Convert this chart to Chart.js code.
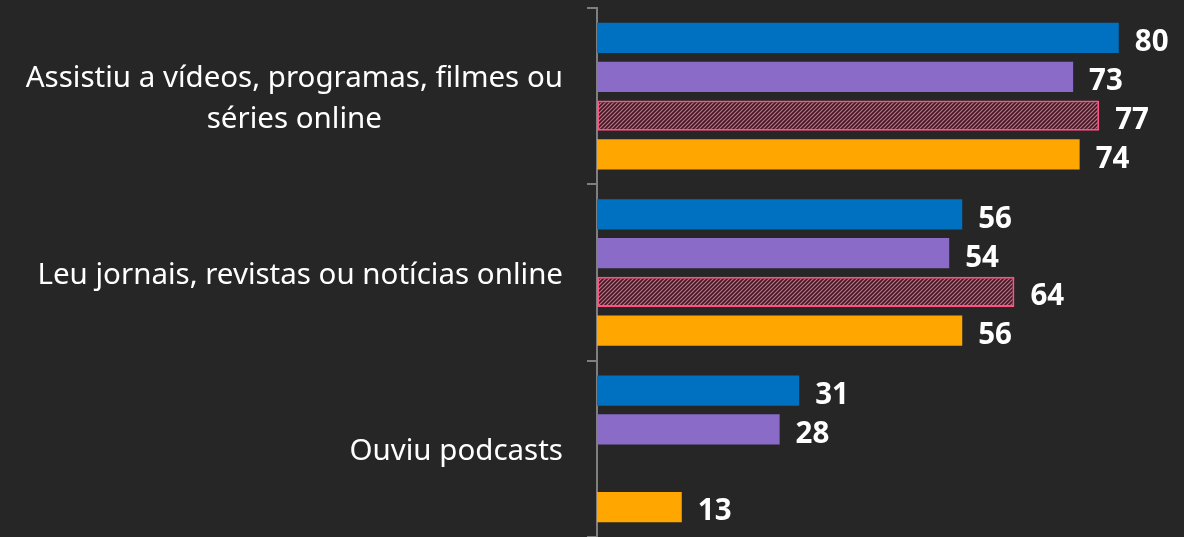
<!DOCTYPE html>
<html>
<head>
<meta charset="utf-8">
<script src="https://cdn.jsdelivr.net/npm/chart.js@4/dist/chart.umd.min.js"></script>
<style>
  html, body { margin: 0; padding: 0; background: #262626; }
  #wrap { width: 1184px; height: 537px; }
</style>
</head>
<body>
<div id="wrap"><canvas id="myChart"></canvas></div>
<script>
var categorias = [
  ['Assistiu a vídeos, programas, filmes ou', 'séries online'],
  'Leu jornais, revistas ou notícias online',
  'Ouviu podcasts'
];
var serie1 = [80, 56, 31];
var serie2 = [73, 54, 28];
var serie3 = [77, 64, null];
var serie4 = [74, 56, 13];

// hachura rosa
function makeHatch() {
  var c = document.createElement('canvas');
  c.width = 4; c.height = 4;
  var g = c.getContext('2d');
  g.fillStyle = '#262626';
  g.fillRect(0, 0, 4, 4);
  g.strokeStyle = '#ff5282';
  g.lineWidth = 1.2;
  g.beginPath();
  g.moveTo(-1, 5); g.lineTo(5, -1);
  g.moveTo(-5, 5); g.lineTo(1, -1);
  g.moveTo(3, 5); g.lineTo(9, -1);
  g.stroke();
  return g.createPattern(c, 'repeat');
}

var valueLabels = {
  id: 'valueLabels',
  afterDatasetsDraw: function(chart) {
    var ctx = chart.ctx;
    ctx.save();
    ctx.font = 'bold 29.5px "Noto Sans"';
    ctx.fillStyle = '#ffffff';
    ctx.textAlign = 'left';
    ctx.textBaseline = 'middle';
    chart.data.datasets.forEach(function(ds, i) {
      var meta = chart.getDatasetMeta(i);
      meta.data.forEach(function(bar, j) {
        var v = ds.data[j];
        if (v === null || v === undefined) return;
        ctx.fillText(v, bar.x + 16, bar.y + 5);
      });
    });
    ctx.restore();
  }
};

// rótulos das categorias: alinhados à direita, linhas centralizadas entre si
var catLabels = {
  id: 'catLabels',
  afterDraw: function(chart) {
    var ctx = chart.ctx;
    var y = chart.scales.y;
    var right = chart.chartArea.left - 34;
    var lh = 41;
    ctx.save();
    ctx.font = '29.5px "Noto Sans"';
    ctx.fillStyle = '#ffffff';
    ctx.textAlign = 'center';
    ctx.textBaseline = 'middle';
    chart.data.labels.forEach(function(lbl, i) {
      var lines = Array.isArray(lbl) ? lbl : [lbl];
      var w = 0;
      lines.forEach(function(t) { w = Math.max(w, ctx.measureText(t).width); });
      var cx = right - w / 2;
      var cy = y.getPixelForValue(i) + 3;
      var y0 = cy - (lines.length - 1) * lh / 2;
      lines.forEach(function(t, k) { ctx.fillText(t, cx, y0 + k * lh); });
    });
    ctx.restore();
  }
};

var ctx = document.getElementById('myChart').getContext('2d');
var myChart = new Chart(ctx, {
  type: 'bar',
  data: {
    labels: categorias,
    datasets: [
      { data: serie1, backgroundColor: '#0070c0' },
      { data: serie2, backgroundColor: '#8a6cc8' },
      { data: serie3, backgroundColor: makeHatch(), borderColor: '#ff5282', borderWidth: 2, borderSkipped: false },
      { data: serie4, backgroundColor: '#ffa600' }
    ]
  },
  options: {
    indexAxis: 'y',
    responsive: true,
    maintainAspectRatio: false,
    animation: false,
    layout: { padding: { top: 8, bottom: -1, left: 0, right: 0 } },
    categoryPercentage: 0.88,
    barPercentage: 0.78,
    plugins: { legend: { display: false }, tooltip: { enabled: false } },
    scales: {
      x: {
        min: 0, max: 90,
        display: false
      },
      y: {
        afterFit: function(scale) {
          scale.width = 597;
          scale.paddingTop = 0;
          scale.paddingBottom = 0;
        },
        border: { display: true, color: '#7f7f7f', width: 2 },
        grid: { display: true, drawOnChartArea: false, color: '#7f7f7f', lineWidth: 2, tickLength: 10, offset: true },
        ticks: { display: false }
      }
    }
  },
  plugins: [valueLabels, catLabels]
});
</script>
</body>
</html>
